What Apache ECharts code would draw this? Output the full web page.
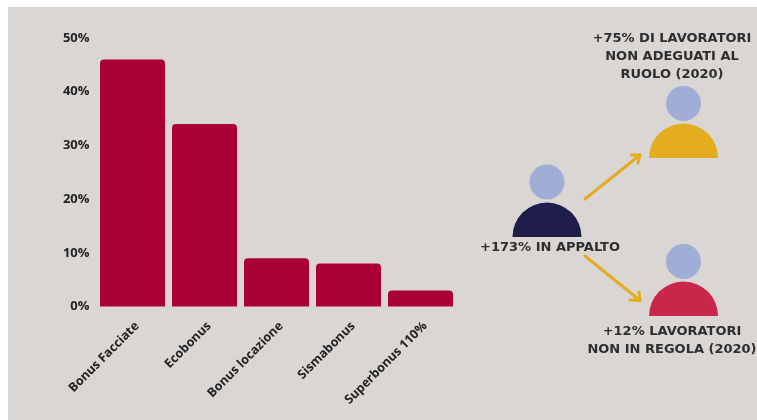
<!DOCTYPE html>
<html><head><meta charset="utf-8">
<style>html,body{margin:0;padding:0;background:#fff}#c{width:757px;height:420px}</style>
<script src="https://cdn.jsdelivr.net/npm/echarts@6/dist/echarts.min.js"></script>
</head><body><div id="c"></div>
<script>
const categories = ['Bonus Facciate','Ecobonus','Bonus locazione','Sismabonus','Superbonus 110%'];
const values = [46,34,9,8,3];
const noteTop = ['+75% DI LAVORATORI','NON ADEGUATI AL','RUOLO (2020)'];
const noteMid = ['+173% IN APPALTO'];
const noteBottom = ['+12% LAVORATORI','NON IN REGOLA (2020)'];

const INK='#222222', NOTE='#2e2e2e', HEAD='#a0add6', ARROW='#e3ad1f';
function person(cx, headY, baseY, color){
  return [
    {type:'circle',shape:{cx:cx,cy:headY,r:17.5},style:{fill:HEAD},z:2},
    {type:'sector',shape:{cx:cx,cy:baseY,r0:0,r:34.5,startAngle:Math.PI,endAngle:2*Math.PI},style:{fill:color},z:2}
  ];
}
function arrow(points, barbA, barbB){
  const s={stroke:ARROW,lineWidth:3,fill:null,lineCap:'round',lineJoin:'round'};
  return [
    {type:'polyline',shape:{points:points},style:s,z:2},
    {type:'polyline',shape:{points:[barbA,points[1],barbB]},style:s,z:2}
  ];
}
function lines(list, cx, ys){
  return list.map((t,i)=>({type:'text',x:cx,y:ys[i],z:3,style:{
    text:t,fill:NOTE,align:'center',verticalAlign:'middle',
    font:'bold 13px "DejaVu Sans"',
  }}));
}
const chart = echarts.init(document.getElementById('c'),null,{renderer:'canvas'});
chart.setOption({
  animation:false,
  backgroundColor:'#ffffff',
  grid:{left:96.5,width:360,top:38,height:268.5,containLabel:false},
  xAxis:{type:'category',data:categories,
    axisLine:{show:false},axisTick:{show:false},
    axisLabel:{rotate:45,interval:0,margin:13,color:INK,verticalAlign:'top',fontFamily:'Open Sans',fontWeight:'bold',fontSize:12.5}},
  yAxis:{type:'value',min:0,max:50,interval:10,
    splitLine:{show:false},axisLine:{show:false},axisTick:{show:false},
    axisLabel:{formatter:'{value}%',margin:7,color:INK,padding:[3,0,0,0],fontFamily:'Open Sans',fontWeight:'bold',fontSize:13}},
  series:[{type:'bar',data:values,barWidth:65,itemStyle:{color:'#ab0033',borderRadius:[4,4,0,0]},z:4}],
  graphic:{elements:[
    {type:'rect',shape:{x:8,y:7,width:749,height:413},style:{fill:'#d9d6d3'},z:-10,silent:true},
    ...person(683.5,103.5,158,'#e3ad1f'),
    ...person(547,182,237,'#1f1e4a'),
    ...person(683.5,261.5,316,'#c8264b'),
    ...arrow([[585,199],[640,155]],[631,155],[638,163]),
    ...arrow([[585,256],[640,300.5]],[630,300],[639,292]),
    ...lines(noteTop,672,[39,57,75]),
    ...lines(noteMid,550,[248]),
    ...lines(noteBottom,672,[332,350])
  ]}
});
</script></body></html>
